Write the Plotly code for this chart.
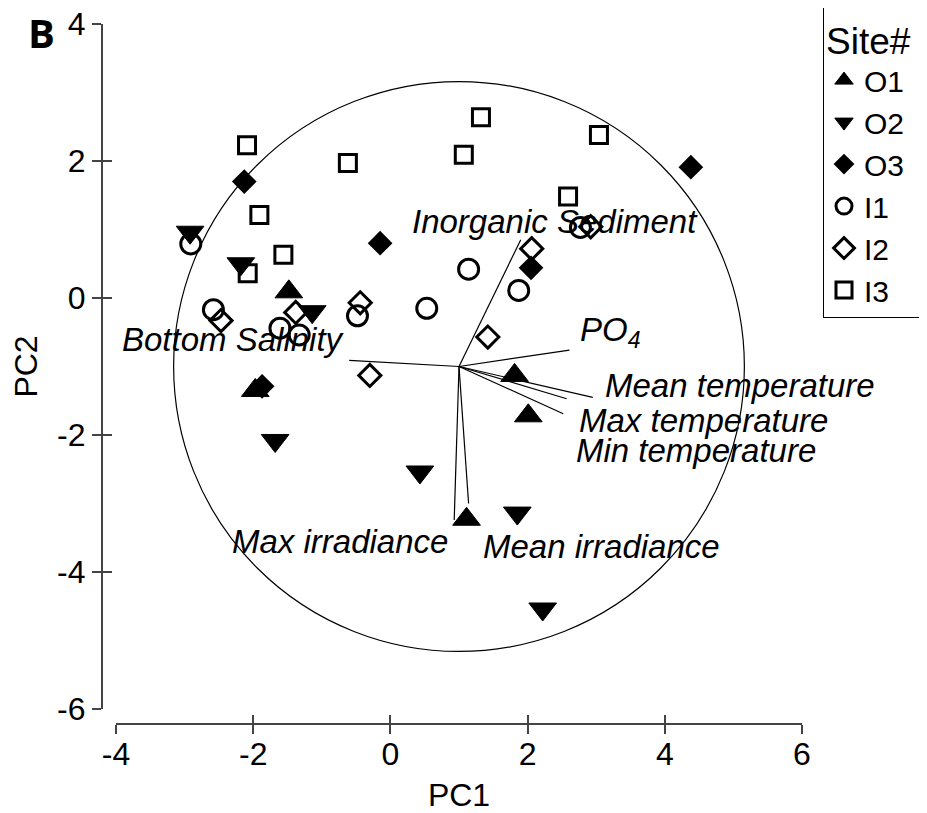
import plotly.graph_objects as go

# ---------------- data ----------------
o1_x = [-1.48, -1.97, 1.81, 2.01, 1.11]
o1_y = [0.09, -1.35, -1.13, -1.72, -3.23]

o2_x = [-2.92, -2.18, -1.14, -1.68, 0.43, 1.85, 2.22]
o2_y = [0.96, 0.50, -0.20, -2.08, -2.54, -3.14, -4.54]

o3_x = [-2.13, -0.15, 4.38, 2.05, -1.87]
o3_y = [1.70, 0.80, 1.91, 0.44, -1.29]

i1_x = [-2.91, 1.14, -2.58, -1.61, -1.33, -0.48, 0.53, 2.77, 1.87]
i1_y = [0.79, 0.42, -0.17, -0.44, -0.54, -0.26, -0.15, 1.03, 0.11]

i2_x = [-2.47, -1.38, -0.44, -0.30, 2.92, 2.06, 1.42]
i2_y = [-0.33, -0.21, -0.07, -1.13, 1.04, 0.72, -0.57]

i3_x = [-2.09, -0.62, -1.91, -1.56, -2.08, 1.32, 1.07, 3.04, 2.59]
i3_y = [2.23, 1.97, 1.21, 0.63, 0.36, 2.64, 2.09, 2.38, 1.48]

site_names = ["O1", "O2", "O3", "I1", "I2", "I3"]

# loading vectors (origin and end points)
vec_origin = (1.0, -1.0)
vec_names = ["Inorganic Sediment", "PO4", "Mean temperature", "Max temperature",
             "Min temperature", "Max irradiance", "Mean irradiance", "Bottom Salinity"]
vec_end_x = [1.90, 2.61, 2.95, 2.57, 2.52, 0.93, 1.14, -0.60]
vec_end_y = [0.85, -0.76, -1.45, -1.47, -1.69, -3.24, -3.00, -0.91]

# label positions for vectors
label_text = ["Inorganic Sediment", "PO<sub>4</sub>", "Mean temperature", "Max temperature",
              "Min temperature", "Max irradiance", "Mean irradiance", "Bottom Salinity"]
label_x = [2.40, 2.73, 5.10, 4.57, 4.45, -0.73, 3.07, -2.28]
label_y = [1.12, -0.50, -1.27, -1.79, -2.23, -3.56, -3.63, -0.61]
label_anchor = ["center", "left", "center", "center", "center", "center", "center", "center"]

circle_center = (1.0, -1.0)
circle_radius = 4.16

x_ticks = [-4, -2, 0, 2, 4, 6]
x_ticktext = ["-4", "-2", "0", "2", "4", "6"]
y_ticks = [-6, -4, -2, 0, 2, 4]
y_ticktext = ["-6", "-4", "-2", "0", "2", "4"]
x_range = [-4, 6]
y_range = [-6, 4]

# ---------------- figure ----------------
# The page adds an 8px body margin, so the figure is 8px smaller and
# all layout positions are given relative to the figure (reference - 8).
OFF = 8
W, H = 927 - OFF, 813 - OFF
x_left, x_right = 116 - OFF, 802 - OFF      # pixel positions of x = -4 and x = 6
y_top, y_bot = 24 - OFF, 709 - OFF          # pixel positions of y = 4 and y = -6
xaxis_line = 724 - OFF
yaxis_line = 101.7 - OFF

ML = 92
MT = y_top
MR = W - x_right
MB = H - xaxis_line
pw = W - ML - MR
ph = H - MT - MB

FONT = "Arial, Liberation Sans, sans-serif"
AXC = "#444444"

fig = go.Figure()

# loading vectors
for nm, ex, ey in zip(vec_names, vec_end_x, vec_end_y):
    fig.add_trace(go.Scatter(x=[vec_origin[0], ex], y=[vec_origin[1], ey], mode="lines",
                             line=dict(color="black", width=1.2), showlegend=False,
                             hoverinfo="skip", name=nm))

marker_specs = [
    (o1_x, o1_y, dict(symbol="triangle-up", size=24, color="black", line=dict(color="black", width=1))),
    (o2_x, o2_y, dict(symbol="triangle-down", size=24, color="black", line=dict(color="black", width=1))),
    (o3_x, o3_y, dict(symbol="diamond", size=19, color="black", line=dict(color="black", width=0))),
    (i1_x, i1_y, dict(symbol="circle-open", size=20, color="black", line=dict(color="black", width=3))),
    (i2_x, i2_y, dict(symbol="diamond-open", size=17, color="black", line=dict(color="black", width=3))),
    (i3_x, i3_y, dict(symbol="square-open", size=17, color="black", line=dict(color="black", width=3))),
]
for name, (xs, ys, mk) in zip(site_names, marker_specs):
    fig.add_trace(go.Scatter(x=xs, y=ys, mode="markers", name=name, marker=mk))

# helper overlay axes for crossing ticks
fig.add_trace(go.Scatter(x=[], y=[], xaxis="x2", yaxis="y2", showlegend=False, hoverinfo="skip"))

# circle
fig.add_shape(type="circle", xref="x", yref="y",
              x0=circle_center[0] - circle_radius, x1=circle_center[0] + circle_radius,
              y0=circle_center[1] - circle_radius, y1=circle_center[1] + circle_radius,
              line=dict(color="black", width=1.2), layer="below")

for t, lx, ly, xa in zip(label_text, label_x, label_y, label_anchor):
    fig.add_annotation(x=lx, y=ly, xref="x", yref="y", text=t, showarrow=False,
                       xanchor=xa, yanchor="middle",
                       font=dict(family=FONT, size=33, color="black", style="italic"))

# panel letter
fig.add_annotation(x=(41 - OFF - ML) / pw, y=(H - MB - (32 - OFF)) / ph, xref="paper", yref="paper",
                   text="<b>B</b>", showarrow=False, xanchor="center", yanchor="middle",
                   font=dict(family="Open Sans", size=40, color="black"))

x_dom = [(x_left - ML) / pw, 1.0]
y_dom = [(xaxis_line - y_bot) / ph, 1.0]
ypos = (yaxis_line - ML) / pw

common_tick = dict(tickcolor=AXC, tickwidth=1.5, ticklen=9, showgrid=False, zeroline=False)

fig.update_layout(
    width=W, height=H, autosize=False,
    margin=dict(l=ML, r=MR, t=MT, b=MB, autoexpand=False),
    paper_bgcolor="white", plot_bgcolor="white",
    font=dict(family=FONT, color="black"),
    xaxis=dict(range=x_range, domain=x_dom, anchor="free", position=0,
               tickvals=x_ticks, ticktext=x_ticktext, ticks="outside", showline=True,
               linecolor=AXC, linewidth=1.5, ticklabelstandoff=-7, ticklabeloverflow="allow",
               tickfont=dict(family=FONT, size=32, color="black"),
               title=dict(text="PC1", font=dict(family=FONT, size=32, color="black"), standoff=18),
               **common_tick),
    yaxis=dict(range=y_range, domain=y_dom, anchor="free", position=ypos,
               tickvals=y_ticks, ticktext=y_ticktext, ticks="outside", showline=True,
               linecolor=AXC, linewidth=1.5, ticklabeloverflow="allow",
               tickfont=dict(family=FONT, size=32, color="black"),
               title=dict(text="PC2", font=dict(family=FONT, size=32, color="black"), standoff=10),
               **common_tick),
    xaxis2=dict(range=x_range, overlaying="x", anchor="free", position=0, side="bottom",
                tickvals=x_ticks, ticks="inside", showticklabels=False, showline=False,
                **common_tick),
    yaxis2=dict(range=y_range, overlaying="y", anchor="free", position=ypos, side="left",
                tickvals=y_ticks, ticks="inside", showticklabels=False, showline=False,
                **common_tick),
    legend=dict(x=(823 - OFF - ML) / pw, y=(xaxis_line - (5 - OFF)) / ph, xanchor="left", yanchor="top",
                bordercolor="black", borderwidth=1, bgcolor="white",
                font=dict(family=FONT, size=30, color="black"),
                title=dict(text="Site#\u00a0\u00a0", font=dict(family=FONT, size=37, color="black")),
                tracegroupgap=0, itemwidth=30),
    showlegend=True,
)

fig.write_html("out.html")
